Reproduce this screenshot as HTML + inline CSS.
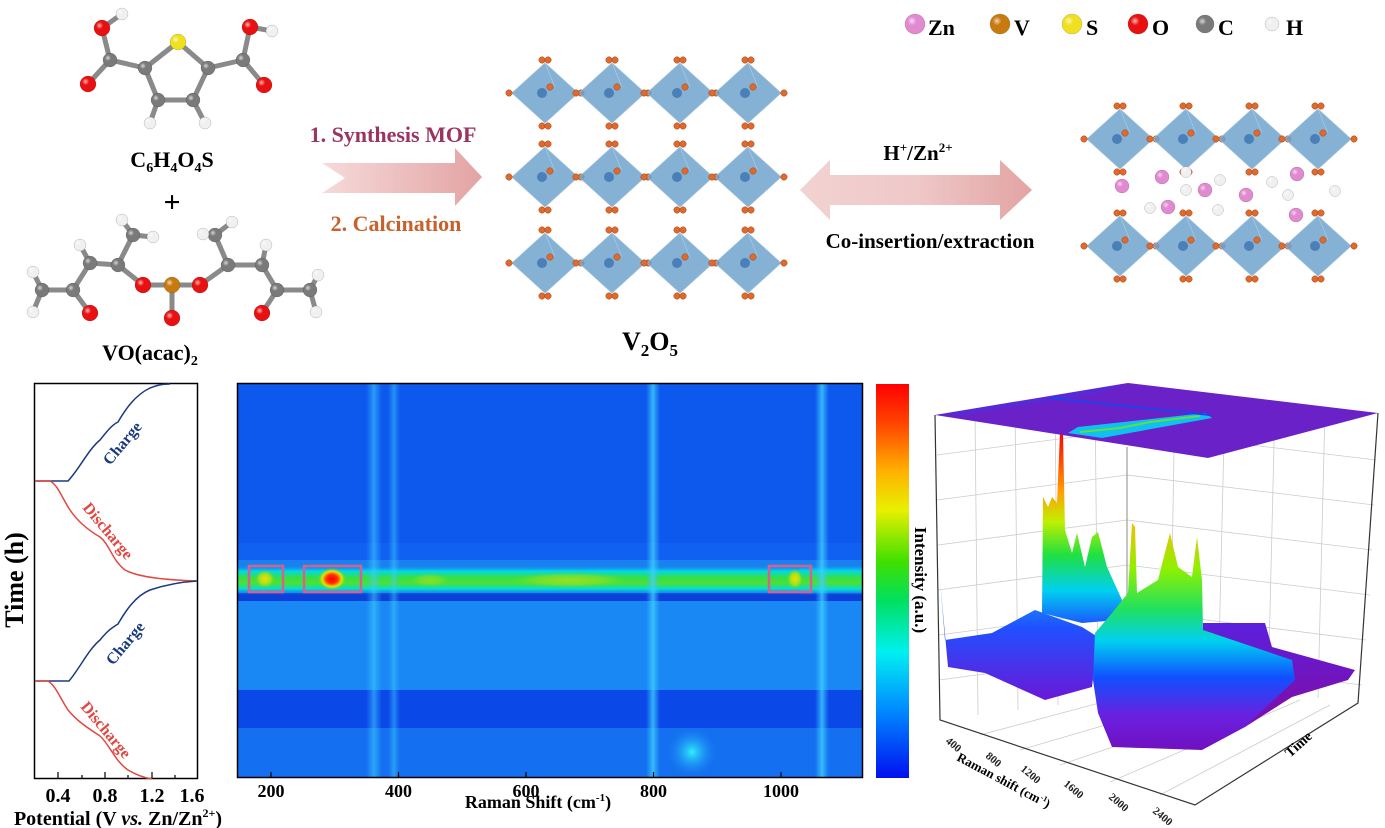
<!DOCTYPE html>
<html><head><meta charset="utf-8"><style>
html,body{margin:0;padding:0;background:#fff;width:1385px;height:828px;overflow:hidden}
svg{display:block}
text{font-family:"Liberation Serif",serif;font-weight:bold}
</style></head><body>
<svg id="s" width="1385" height="828" viewBox="0 0 1385 828" xmlns="http://www.w3.org/2000/svg">
<defs>
<linearGradient id="arr" x1="0" x2="1"><stop offset="0" stop-color="#f6dada"/><stop offset="1" stop-color="#e3a3a3"/></linearGradient>
<linearGradient id="arr2" x1="0" x2="1"><stop offset="0" stop-color="#f2d2d2"/><stop offset="0.5" stop-color="#efc8c8"/><stop offset="1" stop-color="#e3a3a3"/></linearGradient>
<linearGradient id="cb" x1="0" y1="0" x2="0" y2="1">
<stop offset="0" stop-color="#ff0000"/><stop offset="0.1" stop-color="#ff4500"/><stop offset="0.22" stop-color="#ffb000"/><stop offset="0.32" stop-color="#e8f000"/><stop offset="0.45" stop-color="#40e000"/><stop offset="0.55" stop-color="#00e060"/><stop offset="0.68" stop-color="#00f0f0"/><stop offset="0.82" stop-color="#0090ff"/><stop offset="1" stop-color="#0010f0"/></linearGradient>
<linearGradient id="band" x1="0" y1="0" x2="0" y2="1">
<stop offset="0" stop-color="#1a7cf0" stop-opacity="0"/><stop offset="0.2" stop-color="#00d8e8"/><stop offset="0.4" stop-color="#30e050"/><stop offset="0.6" stop-color="#50e030"/><stop offset="0.8" stop-color="#00e0d0"/><stop offset="1" stop-color="#1a7cf0" stop-opacity="0"/></linearGradient>
<linearGradient id="vl" x1="0" x2="1"><stop offset="0" stop-color="#30c0ff" stop-opacity="0"/><stop offset="0.5" stop-color="#40d0ff" stop-opacity="0.8"/><stop offset="1" stop-color="#30c0ff" stop-opacity="0"/></linearGradient>
<radialGradient id="blob"><stop offset="0" stop-color="#30f0ff"/><stop offset="1" stop-color="#1a80f0" stop-opacity="0"/></radialGradient>
<radialGradient id="hot"><stop offset="0" stop-color="#ff0000"/><stop offset="0.4" stop-color="#ff3000"/><stop offset="0.7" stop-color="#f0e000"/><stop offset="1" stop-color="#60e020" stop-opacity="0"/></radialGradient>
<radialGradient id="warm"><stop offset="0" stop-color="#f0e000"/><stop offset="0.6" stop-color="#a0e020"/><stop offset="1" stop-color="#60e020" stop-opacity="0"/></radialGradient>
<linearGradient id="pk" gradientUnits="userSpaceOnUse" x1="0" y1="433" x2="0" y2="630">
<stop offset="0" stop-color="#ff0000"/><stop offset="0.3" stop-color="#ffa000"/><stop offset="0.45" stop-color="#c0f000"/><stop offset="0.62" stop-color="#20e040"/><stop offset="0.8" stop-color="#00d0f0"/><stop offset="1" stop-color="#2040ff"/></linearGradient>
<linearGradient id="rm" gradientUnits="userSpaceOnUse" x1="0" y1="523" x2="0" y2="750">
<stop offset="0" stop-color="#f0c000"/><stop offset="0.2" stop-color="#90f000"/><stop offset="0.38" stop-color="#20e060"/><stop offset="0.52" stop-color="#00d0f0"/><stop offset="0.68" stop-color="#1050ff"/><stop offset="0.85" stop-color="#6a20e0"/><stop offset="1" stop-color="#7010c0"/></linearGradient>
<linearGradient id="lm" gradientUnits="userSpaceOnUse" x1="0" y1="580" x2="0" y2="700">
<stop offset="0" stop-color="#10b0f0"/><stop offset="0.4" stop-color="#2050ff"/><stop offset="1" stop-color="#6a18d8"/></linearGradient>
<linearGradient id="pl" gradientUnits="userSpaceOnUse" x1="0" y1="620" x2="0" y2="700">
<stop offset="0" stop-color="#5a20e0"/><stop offset="1" stop-color="#7a10b0"/></linearGradient>
<radialGradient id="ball"><stop offset="0" stop-color="#fff" stop-opacity="0.7"/><stop offset="0.5" stop-color="#fff" stop-opacity="0"/></radialGradient>
</defs>

<g id="legend"></g>
<text x="928" y="35" font-size="22">Zn</text>
<text x="1014" y="35" font-size="22">V</text>
<text x="1086" y="35" font-size="22">S</text>
<text x="1152" y="35" font-size="22">O</text>
<text x="1218" y="35" font-size="22">C</text>
<text x="1286" y="35" font-size="22">H</text>

<g id="mol"></g>
<text x="172" y="167" font-size="22" text-anchor="middle">C<tspan font-size="14" dy="5">6</tspan><tspan dy="-5">H</tspan><tspan font-size="14" dy="5">4</tspan><tspan dy="-5">O</tspan><tspan font-size="14" dy="5">4</tspan><tspan dy="-5">S</tspan></text>
<text x="172" y="212" font-size="30" font-weight="normal" text-anchor="middle">+</text>
<text x="150" y="360" font-size="22" text-anchor="middle">VO(acac)<tspan font-size="14" dy="5">2</tspan></text>

<polygon points="322,163 455,163 455,148 482,177 455,206 455,193 322,193 345,178" fill="url(#arr)"/>
<text x="393" y="142" font-size="22" fill="#9a3560" text-anchor="middle">1. Synthesis MOF</text>
<text x="396" y="231" font-size="22" fill="#c8622c" text-anchor="middle">2. Calcination</text>

<g id="cry"></g>
<text x="650" y="350" font-size="26" text-anchor="middle">V<tspan font-size="17" dy="6">2</tspan><tspan dy="-6">O</tspan><tspan font-size="17" dy="6">5</tspan></text>

<polygon points="800,190 830,160 830,175 1000,175 1000,160 1032,190 1000,220 1000,205 830,205 830,220" fill="url(#arr2)"/>
<text x="918" y="160" font-size="21" text-anchor="middle">H<tspan font-size="13" dy="-8">+</tspan><tspan dy="8">/Zn</tspan><tspan font-size="13" dy="-8">2+</tspan></text>
<text x="930" y="248" font-size="21" text-anchor="middle">Co-insertion/extraction</text>

<rect x="34.5" y="383.5" width="163" height="395" fill="#fff" stroke="#000" stroke-width="1.5"/>
<g fill="none" stroke-width="1.5">
<path d="M35,481 L68,481 C80,468 88,450 100,440 C108,430 112,425 118,422 C125,410 135,395 150,388 C158,385 162,384 170,384" stroke="#1a3a80"/>
<path d="M35,481 L50,481 C58,485 62,498 70,510 C78,522 88,530 100,537 C110,545 112,560 125,570 C140,578 170,580 197,581" stroke="#e04840"/>
<path d="M35,681 L69,681 C80,668 88,650 100,640 C108,630 112,628 118,624 C125,612 135,596 150,590 C165,585 180,582 197,581" stroke="#1a3a80"/>
<path d="M35,681 L48,681 C56,686 60,698 68,710 C78,722 88,728 100,736 C110,745 114,760 128,770 C138,776 146,778 152,779" stroke="#e04840"/>
</g>
<text font-size="16" fill="#1a3a80" transform="translate(110,466) rotate(-50)">Charge</text>
<text font-size="16" fill="#1a3a80" transform="translate(113,666) rotate(-50)">Charge</text>
<text font-size="16" fill="#e04840" transform="translate(82,508) rotate(50)">Discharge</text>
<text font-size="16" fill="#e04840" transform="translate(80,707) rotate(50)">Discharge</text>
<g stroke="#000" stroke-width="1.2"><line x1="58" y1="778" x2="58" y2="772"/><line x1="105" y1="778" x2="105" y2="772"/><line x1="152" y1="778" x2="152" y2="772"/><line x1="82" y1="778" x2="82" y2="775"/><line x1="128" y1="778" x2="128" y2="775"/><line x1="175" y1="778" x2="175" y2="775"/></g>
<g font-size="20" text-anchor="middle"><text x="58" y="802">0.4</text><text x="105" y="802">0.8</text><text x="152" y="802">1.2</text><text x="192" y="802">1.6</text></g>
<text x="118" y="825" font-size="20" text-anchor="middle">Potential (V <tspan font-style="italic">vs.</tspan> Zn/Zn<tspan font-size="12" dy="-8">2+</tspan><tspan dy="8">)</tspan></text>
<text font-size="26" text-anchor="middle" transform="translate(23,580) rotate(-90)">Time (h)</text>

<svg x="237" y="383" width="626" height="395" viewBox="237 383 626 395">
<rect x="237" y="383" width="626" height="395" fill="#0d5cf0"/>
<rect x="237" y="383" width="626" height="160" fill="#0a4ee8" opacity="0.7"/>
<rect x="237" y="383" width="626" height="395" fill="#1c70f2" opacity="0.25"/>
<rect x="237" y="598" width="626" height="92" fill="#1a88f4"/>
<rect x="237" y="690" width="626" height="38" fill="#0a48e8"/>
<rect x="237" y="728" width="626" height="50" fill="#1470f0"/>
<rect x="237" y="560" width="626" height="38" fill="#1a80f0"/>
<rect x="237" y="593" width="626" height="8" fill="#0c40d8"/>
<rect x="237" y="565" width="626" height="30" fill="url(#band)"/>
<rect x="800" y="565" width="63" height="30" fill="url(#band)"/>
<rect x="366" y="383" width="16" height="395" fill="url(#vl)" opacity="0.7"/>
<rect x="388" y="383" width="12" height="395" fill="url(#vl)" opacity="0.6"/>
<rect x="646" y="383" width="14" height="395" fill="url(#vl)"/>
<rect x="815" y="383" width="14" height="395" fill="url(#vl)"/>
<ellipse cx="692" cy="752" rx="25" ry="25" fill="url(#blob)"/>
<ellipse cx="265" cy="579" rx="10" ry="9" fill="url(#warm)"/>
<ellipse cx="332" cy="579" rx="14" ry="11" fill="url(#hot)"/>
<ellipse cx="795" cy="579" rx="8" ry="10" fill="url(#warm)"/>
<ellipse cx="570" cy="580" rx="60" ry="8" fill="url(#warm)" opacity="0.5"/>
<ellipse cx="430" cy="580" rx="20" ry="7" fill="url(#warm)" opacity="0.4"/>
</svg>
<rect x="237.5" y="383.5" width="625" height="394" fill="none" stroke="#000" stroke-width="1.5"/>
<g fill="none" stroke="#d86090" stroke-width="2.5"><rect x="249" y="566" width="34" height="26"/><rect x="304" y="566" width="57" height="26"/><rect x="769" y="566" width="42" height="26"/></g>
<g stroke="#000" stroke-width="1.2"><line x1="271" y1="778" x2="271" y2="772"/><line x1="398.5" y1="778" x2="398.5" y2="772"/><line x1="526" y1="778" x2="526" y2="772"/><line x1="653.5" y1="778" x2="653.5" y2="772"/><line x1="781" y1="778" x2="781" y2="772"/></g>
<g font-size="18" text-anchor="middle"><text x="271" y="797">200</text><text x="398.5" y="797">400</text><text x="526" y="797">600</text><text x="653.5" y="797">800</text><text x="781" y="797">1000</text></g>
<text x="538" y="808" font-size="18" text-anchor="middle">Raman Shift (cm<tspan font-size="11" dy="-7">-1</tspan><tspan dy="7">)</tspan></text>

<rect x="876" y="384" width="33" height="394" fill="url(#cb)"/>
<text font-size="17" text-anchor="middle" transform="translate(915,580) rotate(90)">Intensity (a.u.)</text>

<g stroke="#ccc" stroke-width="0.8" fill="none">
<path d="M937,455 L1127,430 M937,500 L1127,475 M938,545 L1127,520 M938,590 L1127,565 M939,635 L1127,610 M939,680 L1127,655"/>
<path d="M1127,430 L1376,460 M1127,475 L1374,505 M1127,520 L1372,550 M1127,565 L1370,595 M1127,610 L1366,640 M1127,655 L1362,685"/>
<path d="M975,410 L978,715 M1015,403 L1018,710 M1055,397 L1058,705 M1095,390 L1098,700 M1175,390 L1170,690 M1225,396 L1218,692 M1275,402 L1268,695 M1325,408 L1318,698"/>
<path d="M980,735 L1185,680 M1020,750 L1225,690 M1060,765 L1265,695 M1110,782 L1300,700 M1160,795 L1330,705"/>
</g>
<polyline points="935,415 940,720 1195,805 1358,703 1378,413" fill="none" stroke="#333" stroke-width="1.2"/>
<line x1="1127" y1="447" x2="1127" y2="640" stroke="#888" stroke-width="1"/>
<polygon points="940,580 945,640 992,633 1035,610 1082,627 1098,637 1092,687 1045,700 985,673 948,667" fill="url(#lm)"/>
<polygon points="1042,613 1043,497 1048,507 1052,497 1057,503 1060,433 1063,433 1065,530 1072,553 1077,533 1085,567 1092,537 1098,532 1107,567 1122,600 1118,620 1082,623" fill="url(#pk)"/>
<polygon points="1203,623 1265,623 1272,647 1355,670 1348,680 1292,697 1245,727 1203,700" fill="url(#pl)"/>
<polygon points="1095,633 1112,613 1128,593 1132,523 1135,527 1137,593 1158,580 1170,533 1178,567 1192,577 1197,537 1202,580 1203,630 1292,660 1295,680 1245,727 1202,750 1112,747 1098,713 1093,680" fill="url(#rm)"/>
<polygon points="935,415 1128,383 1378,413 1208,458" fill="#6a22c8"/>
<polygon points="935,415 1128,383 1100,393 960,415" fill="#4a30e0" opacity="0.6"/>
<polygon points="1068,433 1078,427 1205,413 1212,418 1102,438" fill="#10c0f0"/>
<polyline points="1080,432 1120,428 1150,422 1200,416" stroke="#60e040" stroke-width="2" fill="none"/>
<line x1="1050" y1="398" x2="1210" y2="415" stroke="#2040f0" stroke-width="2"/>
<g font-size="11" fill="#222"><text transform="translate(945,742) rotate(40)">400</text><text transform="translate(985,757) rotate(40)">800</text><text transform="translate(1020,770) rotate(40)">1200</text><text transform="translate(1063,785) rotate(40)">1600</text><text transform="translate(1108,798) rotate(40)">2000</text><text transform="translate(1152,812) rotate(40)">2400</text></g>
<text font-size="13" transform="translate(956,760) rotate(28)">Raman shift (cm<tspan font-size="8" dy="-5">-1</tspan><tspan dy="5">)</tspan></text>
<text font-size="14" transform="translate(1290,758) rotate(-42)">Time</text>
</svg>
<script>
var S=document.getElementById('s'),NS='http://www.w3.org/2000/svg';
function el(t,a,p){var e=document.createElementNS(NS,t);for(var k in a)e.setAttribute(k,a[k]);(p||S).appendChild(e);return e;}
var C={zn:'#e28ad0',v:'#c87a10',s:'#f0e020',o:'#e81010',c:'#7a7a7a',h:'#f0f0f0'};
function atom(x,y,r,c,p){el('circle',{cx:x,cy:y,r:r,fill:c,stroke:'rgba(0,0,0,0.25)','stroke-width':0.5},p);el('circle',{cx:x-r*0.3,cy:y-r*0.3,r:r*0.9,fill:'url(#ball)'},p);}
var lg=document.getElementById('legend');
[[915,C.zn,10],[1000,C.v,10],[1072,C.s,10],[1138,C.o,10],[1205,C.c,9],[1272,C.h,7]].forEach(function(a){atom(a[0],24,a[2],a[1],lg);});
var m=document.getElementById('mol');
var A={S:[178,42],c1:[145,68],c2:[208,68],c3:[158,100],c4:[193,100],k1:[110,60],k2:[243,60],o1:[102,28],o2:[250,27],o3:[88,84],o4:[264,85],h1:[122,14],h2:[272,31],h3:[150,123],h4:[205,123],
V:[172,285],oa:[143,285],ob:[200,285],oc:[172,318],a1:[118,265],a2:[228,265],m1:[133,235],m2:[215,235],a3:[90,263],a4:[73,290],a5:[42,290],od:[90,313],a6:[262,265],a7:[277,290],a8:[310,290],oe:[262,313],
H1:[122,220],H2:[153,237],H3:[203,234],H4:[232,222],H5:[80,245],H6:[33,272],H7:[33,312],H8:[266,245],H9:[318,275],H10:[316,312]};
[['S','c1'],['S','c2'],['c1','c3'],['c3','c4'],['c4','c2'],['c1','k1'],['c2','k2'],['k1','o1'],['k2','o2'],['k1','o3'],['k2','o4'],['o1','h1'],['o2','h2'],['c3','h3'],['c4','h4'],
['V','oa'],['V','ob'],['V','oc'],['oa','a1'],['ob','a2'],['a1','m1'],['a2','m2'],['a1','a3'],['a3','a4'],['a4','a5'],['a4','od'],['a2','a6'],['a6','a7'],['a7','a8'],['a7','oe'],
['m1','H1'],['m1','H2'],['m2','H3'],['m2','H4'],['a3','H5'],['a5','H6'],['a5','H7'],['a6','H8'],['a8','H9'],['a8','H10']].forEach(function(b){var p=A[b[0]],q=A[b[1]];el('line',{x1:p[0],y1:p[1],x2:q[0],y2:q[1],stroke:'#8a8a8a','stroke-width':5},m);});
for(var k in A){var t=k[0],c,r;if(k=='S'){c=C.s;r=8}else if(k=='V'){c=C.v;r=8}else if(t=='o'){c=C.o;r=8}else if(t=='h'||t=='H'){c=C.h;r=6}else{c=C.c;r=7}atom(A[k][0],A[k][1],r,c,m);}
var cr=document.getElementById('cry');
function octa(cx,cy,w,h){el('polygon',{points:(cx-w)+','+cy+' '+cx+','+(cy-h)+' '+(cx+w)+','+cy+' '+cx+','+(cy+h),fill:'#6fa3cc','fill-opacity':0.85,stroke:'#9cc0dc','stroke-width':0.8},cr);
el('line',{x1:cx,y1:cy-h,x2:cx+w*0.3,y2:cy-h*0.2,stroke:'#b0cfe6','stroke-width':0.6},cr);el('circle',{cx:cx-3,cy:cy,r:5,fill:'#4a7fb8'},cr);
[[cx-3,cy-h-3],[cx+3,cy-h-3],[cx-3,cy+h+3],[cx+3,cy+h+3],[cx-w-3,cy],[cx+w+3,cy],[cx+5,cy-6]].forEach(function(p){el('circle',{cx:p[0],cy:p[1],r:3.2,fill:'#e06a2c',stroke:'#a04010','stroke-width':0.5},cr);});}
[93,177,263].forEach(function(y){[545,612,680,748].forEach(function(x){octa(x,y,33,30);});});
[139,246].forEach(function(y){[1120,1186,1252,1318].forEach(function(x){octa(x,y,33,30);});});
[[1122,186,C.zn],[1162,177,C.zn],[1205,190,C.zn],[1246,195,C.zn],[1297,174,C.zn],[1168,207,C.zn],[1296,215,C.zn],[1186,172,C.h],[1186,190,C.h],[1220,180,C.h],[1272,182,C.h],[1288,195,C.h],[1335,191,C.h],[1150,208,C.h],[1218,210,C.h]].forEach(function(a){atom(a[0],a[1],a[2]==C.zn?7:5.5,a[2],cr);});
</script>
</body></html>
